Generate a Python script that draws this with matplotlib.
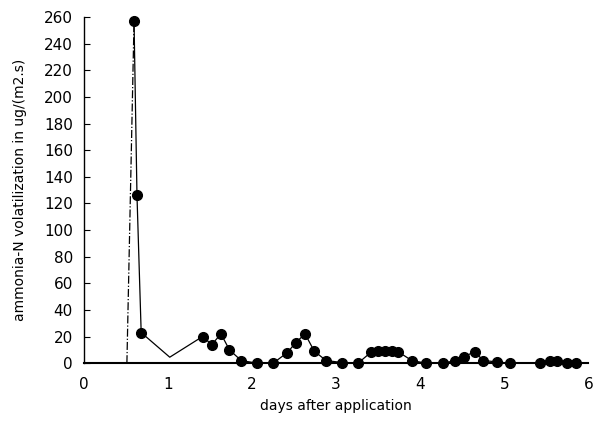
import matplotlib
matplotlib.use("Agg")
import matplotlib.pyplot as plt

# start of application (no marker, dash-dot rise)
start_x = [0.51, 0.595]
start_y = [0, 257]

days = [0.595, 0.63, 0.68, 1.02, 1.41, 1.52, 1.63, 1.73, 1.87, 2.06, 2.25,
        2.42, 2.52, 2.63, 2.74, 2.88, 3.07, 3.26, 3.42, 3.50, 3.58, 3.66, 3.74,
        3.90, 4.07, 4.27, 4.42, 4.52, 4.65, 4.75, 4.91, 5.07, 5.43, 5.55,
        5.63, 5.75, 5.86]
flux = [257, 126, 23, 4.5, 20, 14, 22, 10, 2, 0, 0,
        8, 15.5, 22, 9, 2, 0.5, 0, 8.5, 9, 9, 9, 8.5,
        2, 0, 0, 2, 5, 8.5, 2, 1, 0, 0.5, 2,
        2, 0.5, 0]
# the point at ~1 day was drawn without a marker
marked = [True] * len(days)
marked[3] = False

fig = plt.figure(figsize=(5.96, 4.36), dpi=100)
ax = fig.add_axes([0.141, 0.167, 0.846, 0.794])

ax.plot(start_x, start_y, color="black", lw=0.9, ls="-.")
ax.plot(days, flux, color="black", lw=0.9)
mx = [d for d, m in zip(days, marked) if m]
my = [f for f, m in zip(flux, marked) if m]
ax.plot(mx, my, "o", color="black", ms=7, clip_on=False)

ax.set_xlim(0, 6)
ax.set_ylim(0, 260)
ax.set_xticks(range(0, 7))
ax.set_yticks(range(0, 261, 20))
ax.spines["top"].set_visible(False)
ax.spines["right"].set_visible(False)
ax.spines["left"].set_linewidth(1.0)
ax.spines["bottom"].set_linewidth(1.5)
ax.tick_params(axis="y", direction="in", length=4, labelsize=11, pad=8)
ax.tick_params(axis="x", length=0, labelsize=11, pad=10)

ax.set_xlabel("days after application", fontsize=10, labelpad=5)
ax.set_ylabel("ammonia-N volatilization in ug/(m2.s)", fontsize=10, labelpad=12)

fig.savefig("out.png", dpi=100)
